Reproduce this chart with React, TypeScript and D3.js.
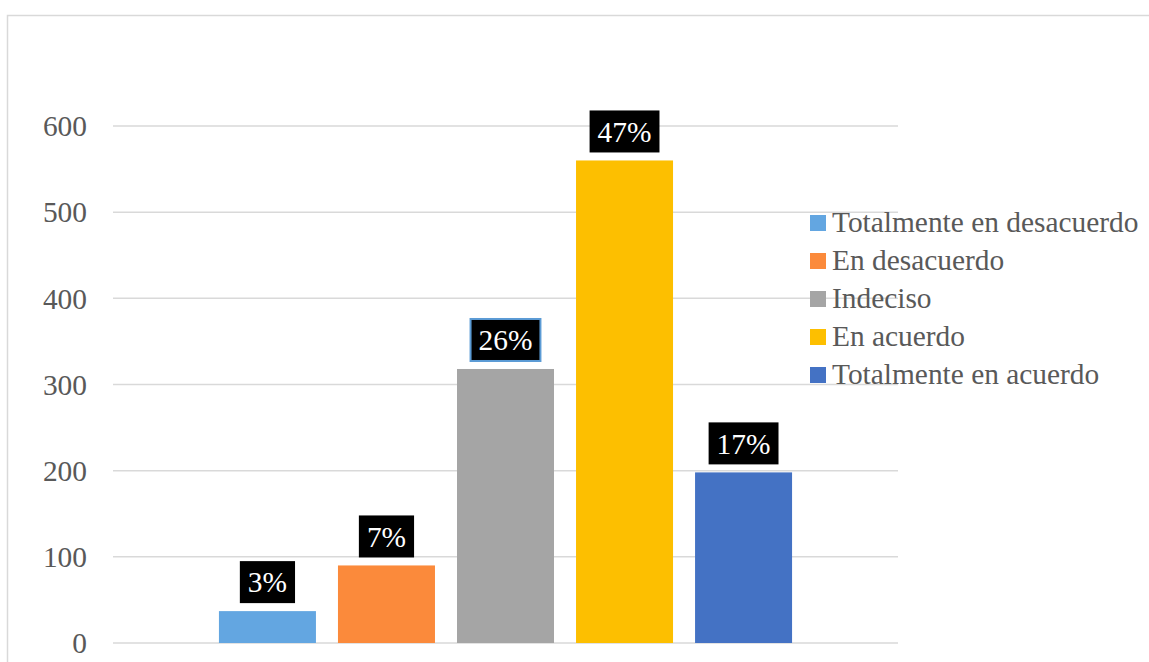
import React from 'react';
import * as d3 from 'd3';

// Series (one category, five clustered bars)
const SERIES = [
  'Totalmente en desacuerdo',
  'En desacuerdo',
  'Indeciso',
  'En acuerdo',
  'Totalmente en acuerdo',
];
const VALUES = [37, 90, 318, 560, 198];
const PERCENT_LABELS = ['3%', '7%', '26%', '47%', '17%'];
const COLORS = ['#63a6e1', '#fb8a3b', '#a5a5a5', '#fdbf00', '#4472c4'];
const Y_TICKS = [0, 100, 200, 300, 400, 500, 600];

const W = 1149;
const H = 662;
const PLOT = { left: 113, right: 898, top: 126, bottom: 643 };
const FONT = 'Liberation Serif';
const FS = 29.4;

// Times-metric advance widths (em) for the label glyphs
const labelWidth = (s: string) =>
  s.split('').reduce((w, c) => w + (c === '%' ? 0.833 : 0.5), 0) * FS;

export default function App() {
  const y = d3.scaleLinear().domain([0, 600]).range([PLOT.bottom, PLOT.top]);

  // series inside the single category
  const x = d3.scaleBand<string>()
    .domain(SERIES)
    .range([PLOT.left, PLOT.right])
    .paddingInner(0.185)
    .paddingOuter(0.89);

  const boxH = 42;
  const padX = 8;

  return (
    <div style={{ position: 'fixed', left: 0, top: 0, width: W, height: H, overflow: 'hidden' }}>
      <svg width={W} height={H} style={{ display: 'block' }} fontFamily={FONT}>
        <rect width={W} height={H} fill="#ffffff" />
        {/* chart area border runs off right & bottom */}
        <rect x={7.5} y={15.5} width={W + 20} height={H + 20} fill="none" stroke="#d9d9d9" strokeWidth={1.5} />

        {/* gridlines + y labels */}
        {Y_TICKS.map(t => (
          <g key={t}>
            <line x1={PLOT.left} x2={PLOT.right} y1={y(t)} y2={y(t)} stroke="#d9d9d9" strokeWidth={1.5} />
            <text x={87} y={y(t)} dy="0.35em" textAnchor="end" fontFamily={FONT} fontSize={FS} fill="#595959">
              {t}
            </text>
          </g>
        ))}

        {/* bars */}
        {VALUES.map((v, i) => (
          <rect
            key={SERIES[i]}
            x={x(SERIES[i])}
            width={x.bandwidth()}
            y={y(v)}
            height={y(0) - y(v)}
            fill={COLORS[i]}
          />
        ))}

        {/* data labels in black boxes */}
        {VALUES.map((v, i) => {
          const cx = x(SERIES[i])! + x.bandwidth() / 2;
          const bottom = y(v) - 8;
          const bw = labelWidth(PERCENT_LABELS[i]) + padX * 2;
          return (
            <g key={'lab' + i}>
              <rect
                x={cx - bw / 2}
                y={bottom - boxH}
                width={bw}
                height={boxH}
                fill="#000000"
                stroke={i === 2 ? '#5b9bd5' : 'none'}
                strokeWidth={i === 2 ? 2 : 0}
              />
              <text x={cx} y={bottom - boxH / 2} dy="0.35em" textAnchor="middle" fontFamily={FONT} fontSize={FS} fill="#ffffff">
                {PERCENT_LABELS[i]}
              </text>
            </g>
          );
        })}

        {/* legend */}
        <g transform="translate(810,223)">
          {SERIES.map((s, i) => (
            <g key={'leg' + i} transform={`translate(0,${i * 38})`}>
              <rect x={0} y={-8} width={16} height={16} fill={COLORS[i]} />
              <text x={22} y={9} fontFamily={FONT} fontSize={FS} fill="#595959">
                {s}
              </text>
            </g>
          ))}
        </g>
      </svg>
    </div>
  );
}
